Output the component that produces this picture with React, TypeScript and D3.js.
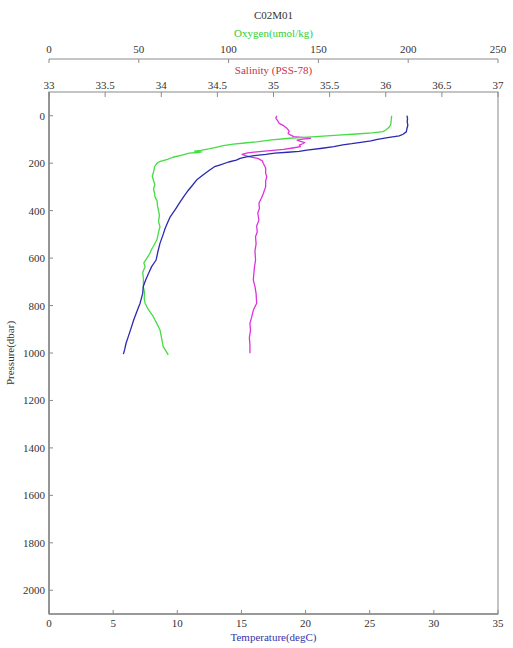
import React from "react";
import * as d3 from "d3";

const title = "C02M01";
const pressureTicks = [0, 200, 400, 600, 800, 1000, 1200, 1400, 1600, 1800, 2000];
const tempTicks = [0, 5, 10, 15, 20, 25, 30, 35];
const salTicks = [33, 33.5, 34, 34.5, 35, 35.5, 36, 36.5, 37];
const oxyTicks = [0, 50, 100, 150, 200, 250];

// Temperature profile
const tempPressure = [0, 12, 25, 40, 55, 68, 78, 85, 92, 100, 106, 112, 118, 123, 130, 137, 145, 150, 154, 158, 163, 168, 173, 180, 187, 195, 208, 215, 230, 250, 271, 292, 315, 341, 365, 395, 426, 450, 475, 500, 538, 570, 608, 636, 660, 690, 720, 750, 790, 825, 861, 895, 931, 960, 985, 1005];
const tempValues = [27.9, 27.95, 27.92, 27.97, 27.9, 27.85, 27.6, 27.3, 26.4, 25.6, 25.1, 24.3, 23.6, 22.9, 22.2, 21.3, 20.1, 19.5, 18.6, 17.6, 16.9, 16.0, 15.4, 14.9, 14.6, 14.0, 13.3, 12.9, 12.5, 12.0, 11.5, 11.2, 10.85, 10.5, 10.2, 9.85, 9.45, 9.25, 9.05, 8.9, 8.65, 8.5, 8.35, 8.0, 7.8, 7.55, 7.35, 7.3, 7.1, 6.85, 6.6, 6.4, 6.18, 6.0, 5.9, 5.8];

// Oxygen profile
const oxyPressure = [0, 15, 30, 39, 50, 60, 67, 72, 77, 82, 86, 90, 95, 102, 110, 115, 120, 126, 133, 140, 146, 149, 152, 155, 158, 166, 175, 184, 192, 201, 215, 235, 255, 271, 290, 310, 327, 341, 360, 380, 397, 420, 445, 468, 490, 510, 524, 545, 565, 580, 600, 620, 636, 660, 690, 720, 745, 770, 790, 815, 847, 875, 903, 930, 950, 973, 990, 1008];
const oxyValues = [190.8, 190.6, 190.4, 190.2, 189.2, 187.5, 186, 180, 171, 161, 152.7, 144, 134, 124, 115.6, 109, 102.6, 97, 93, 89, 84.5, 81, 85, 83, 78, 74, 69, 66, 62, 60, 58.8, 58.3, 57.5, 58.1, 58.9, 58.2, 58.8, 59, 60.2, 60.4, 60.9, 61.5, 61, 61.8, 61, 60.5, 60, 58.5, 57, 56.2, 54.5, 52.8, 53.5, 52.2, 52.6, 52.5, 53.2, 53, 53.5, 55.2, 58.1, 60, 61.8, 62.5, 63, 63.6, 65, 66.4];

// Salinity profile
const salPressure = [0, 10, 23, 32, 42, 53, 65, 75, 81, 88, 93, 95, 99, 103, 108, 113, 118, 124, 130, 136, 142, 147, 152, 157, 163, 168, 173, 180, 190, 201, 220, 243, 257, 275, 300, 327, 345, 369, 390, 410, 440, 465, 490, 510, 540, 570, 608, 640, 665, 692, 720, 750, 790, 820, 850, 875, 905, 935, 965, 1001];
const salValues = [35.03, 35.02, 35.04, 35.05, 35.09, 35.12, 35.14, 35.13, 35.15, 35.18, 35.3, 35.33, 35.26, 35.21, 35.24, 35.28, 35.26, 35.23, 35.24, 35.17, 35.09, 34.97, 34.85, 34.77, 34.72, 34.75, 34.79, 34.86, 34.9, 34.91, 34.93, 34.93, 34.94, 34.93, 34.93, 34.91, 34.895, 34.87, 34.875, 34.86, 34.87, 34.85, 34.855, 34.84, 34.845, 34.835, 34.84, 34.83, 34.825, 34.82, 34.835, 34.845, 34.85, 34.82, 34.805, 34.79, 34.795, 34.785, 34.79, 34.79];

const W = 513, H = 648;
const L = 49, R = 498, T = 92, B = 614;
const FONT = "'Liberation Serif', 'Times New Roman', serif";
const AXIS = "#8a8a8a";
const TXT = "#333";

export default function App() {
  const y = d3.scaleLinear().domain([-100, 2100]).range([T, B]);
  const xT = d3.scaleLinear().domain([0, 35]).range([L, R]);
  const xS = d3.scaleLinear().domain([33, 37]).range([L, R]);
  const xO = d3.scaleLinear().domain([0, 250]).range([L, R]);

  const mk = (ps: number[], vs: number[], xs: d3.ScaleLinear<number, number>) =>
    d3.line<number>().x((_, i) => xs(vs[i])).y((p) => y(p))(ps) || "";

  const oxyAxisY = 59;

  return (
    <svg width={W} height={H} style={{ position: "absolute", left: 0, top: 0, background: "#fff" }} fontFamily={FONT}>
      <rect x={0} y={0} width={W} height={H} fill="#fff" />
      <text x={(L + R) / 2} y={19} textAnchor="middle" fontSize={11} fill={TXT}>{title}</text>
      <text x={(L + R) / 2} y={37} textAnchor="middle" fontSize={11} fill="#33cc33">Oxygen(umol/kg)</text>
      <line x1={L} x2={R} y1={oxyAxisY} y2={oxyAxisY} stroke={AXIS} strokeWidth={1} />
      {oxyTicks.map((t) => (
        <g key={"o" + t}>
          <line x1={xO(t)} x2={xO(t)} y1={oxyAxisY} y2={oxyAxisY + 4} stroke={AXIS} />
          <text x={xO(t)} y={53} textAnchor="middle" fontSize={11} fill={TXT}>{t}</text>
        </g>
      ))}
      <text x={(L + R) / 2} y={74} textAnchor="middle" fontSize={11} fill="#c8334a">Salinity (PSS-78)</text>
      {salTicks.map((t) => (
        <g key={"s" + t}>
          <line x1={xS(t)} x2={xS(t)} y1={T} y2={T + 5} stroke={AXIS} />
          <text x={xS(t)} y={89} textAnchor="middle" fontSize={11} fill={TXT}>{t}</text>
        </g>
      ))}
      <rect x={L} y={T} width={R - L} height={B - T} fill="none" stroke={AXIS} strokeWidth={1} />
      <line x1={L} x2={L} y1={T} y2={B} stroke={AXIS} strokeWidth={1.6} />
      <line x1={L} x2={R} y1={B} y2={B} stroke={AXIS} strokeWidth={1.6} />
      {pressureTicks.map((t) => (
        <g key={"p" + t}>
          <line x1={L} x2={L + 4} y1={y(t)} y2={y(t)} stroke={AXIS} />
          <text x={45} y={y(t) + 4} textAnchor="end" fontSize={11} fill={TXT}>{t}</text>
        </g>
      ))}
      <text transform={`translate(14,${(T + B) / 2}) rotate(-90)`} textAnchor="middle" fontSize={11} fill={TXT}>Pressure(dbar)</text>
      {tempTicks.map((t) => (
        <g key={"t" + t}>
          <line x1={xT(t)} x2={xT(t)} y1={B} y2={B - 4} stroke={AXIS} />
          <text x={xT(t)} y={627} textAnchor="middle" fontSize={11} fill={TXT}>{t}</text>
        </g>
      ))}
      <text x={(L + R) / 2} y={641} textAnchor="middle" fontSize={11} fill="#3333aa">Temperature(degC)</text>
      <path d={mk(salPressure, salValues, xS)} fill="none" stroke="#dd33dd" strokeWidth={1.3} strokeLinejoin="round" />
      <path d={mk(oxyPressure, oxyValues, xO)} fill="none" stroke="#44dd44" strokeWidth={1.3} strokeLinejoin="round" />
      <path d={mk(tempPressure, tempValues, xT)} fill="none" stroke="#2a2ab0" strokeWidth={1.3} strokeLinejoin="round" />
    </svg>
  );
}
